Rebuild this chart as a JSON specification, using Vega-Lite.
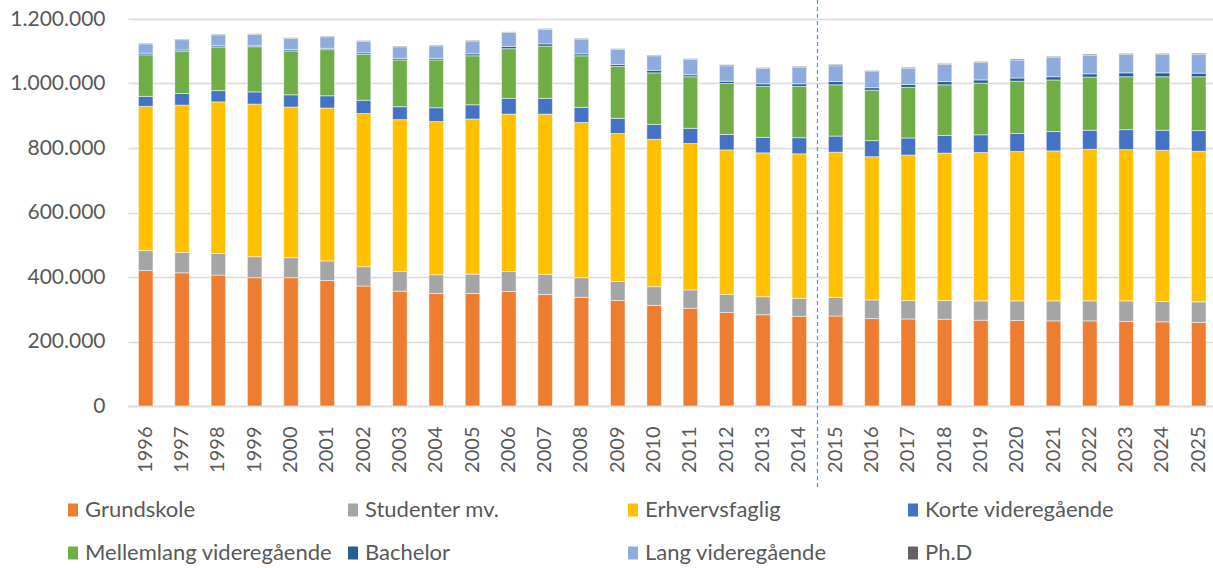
{
  "$schema": "https://vega.github.io/schema/vega-lite/v6.json",
  "autosize": {"type": "none"},
  "padding": {"left": 128, "top": 19, "right": 0, "bottom": 162},
  "width": 1085,
  "height": 387,
  "background": "white",
  "config": {
    "view": {"stroke": null},
    "font": "Lato",
    "axis": {"labelFont": "Lato", "labelColor": "#595959", "gridColor": "#D9D9D9", "gridWidth": 1.5, "domainColor": "#D9D9D9", "domainWidth": 1.5, "ticks": false, "title": null},
    "legend": {"labelFont": "Lato", "labelColor": "#595959"}
  },
  "datasets": {
    "edu": [
      {"year":"1996","cat":"Grundskole","value":420000},{"year":"1996","cat":"Studenter mv.","value":62000},{"year":"1996","cat":"Erhvervsfaglig","value":447000},{"year":"1996","cat":"Korte videregående","value":31000},{"year":"1996","cat":"Mellemlang videregående","value":129000},{"year":"1996","cat":"Bachelor","value":5000},{"year":"1996","cat":"Lang videregående","value":29000},{"year":"1996","cat":"Ph.D","value":2000},
      {"year":"1997","cat":"Grundskole","value":413000},{"year":"1997","cat":"Studenter mv.","value":63000},{"year":"1997","cat":"Erhvervsfaglig","value":457000},{"year":"1997","cat":"Korte videregående","value":36000},{"year":"1997","cat":"Mellemlang videregående","value":131000},{"year":"1997","cat":"Bachelor","value":4000},{"year":"1997","cat":"Lang videregående","value":32000},{"year":"1997","cat":"Ph.D","value":2000},
      {"year":"1998","cat":"Grundskole","value":406000},{"year":"1998","cat":"Studenter mv.","value":67000},{"year":"1998","cat":"Erhvervsfaglig","value":470000},{"year":"1998","cat":"Korte videregående","value":35000},{"year":"1998","cat":"Mellemlang videregående","value":135000},{"year":"1998","cat":"Bachelor","value":4000},{"year":"1998","cat":"Lang videregående","value":34000},{"year":"1998","cat":"Ph.D","value":2000},
      {"year":"1999","cat":"Grundskole","value":398000},{"year":"1999","cat":"Studenter mv.","value":65000},{"year":"1999","cat":"Erhvervsfaglig","value":473000},{"year":"1999","cat":"Korte videregående","value":38000},{"year":"1999","cat":"Mellemlang videregående","value":140000},{"year":"1999","cat":"Bachelor","value":3000},{"year":"1999","cat":"Lang videregående","value":35000},{"year":"1999","cat":"Ph.D","value":2000},
      {"year":"2000","cat":"Grundskole","value":398000},{"year":"2000","cat":"Studenter mv.","value":62000},{"year":"2000","cat":"Erhvervsfaglig","value":467000},{"year":"2000","cat":"Korte videregående","value":38000},{"year":"2000","cat":"Mellemlang videregående","value":136000},{"year":"2000","cat":"Bachelor","value":4000},{"year":"2000","cat":"Lang videregående","value":35000},{"year":"2000","cat":"Ph.D","value":2000},
      {"year":"2001","cat":"Grundskole","value":389000},{"year":"2001","cat":"Studenter mv.","value":61000},{"year":"2001","cat":"Erhvervsfaglig","value":474000},{"year":"2001","cat":"Korte videregående","value":38000},{"year":"2001","cat":"Mellemlang videregående","value":143000},{"year":"2001","cat":"Bachelor","value":4000},{"year":"2001","cat":"Lang videregående","value":36000},{"year":"2001","cat":"Ph.D","value":2000},
      {"year":"2002","cat":"Grundskole","value":372000},{"year":"2002","cat":"Studenter mv.","value":60000},{"year":"2002","cat":"Erhvervsfaglig","value":475000},{"year":"2002","cat":"Korte videregående","value":41000},{"year":"2002","cat":"Mellemlang videregående","value":142000},{"year":"2002","cat":"Bachelor","value":5000},{"year":"2002","cat":"Lang videregående","value":36000},{"year":"2002","cat":"Ph.D","value":2000},
      {"year":"2003","cat":"Grundskole","value":356000},{"year":"2003","cat":"Studenter mv.","value":61000},{"year":"2003","cat":"Erhvervsfaglig","value":471000},{"year":"2003","cat":"Korte videregående","value":40000},{"year":"2003","cat":"Mellemlang videregående","value":145000},{"year":"2003","cat":"Bachelor","value":5000},{"year":"2003","cat":"Lang videregående","value":36000},{"year":"2003","cat":"Ph.D","value":2000},
      {"year":"2004","cat":"Grundskole","value":349000},{"year":"2004","cat":"Studenter mv.","value":58000},{"year":"2004","cat":"Erhvervsfaglig","value":475000},{"year":"2004","cat":"Korte videregående","value":43000},{"year":"2004","cat":"Mellemlang videregående","value":148000},{"year":"2004","cat":"Bachelor","value":5000},{"year":"2004","cat":"Lang videregående","value":39000},{"year":"2004","cat":"Ph.D","value":2000},
      {"year":"2005","cat":"Grundskole","value":349000},{"year":"2005","cat":"Studenter mv.","value":60000},{"year":"2005","cat":"Erhvervsfaglig","value":481000},{"year":"2005","cat":"Korte videregående","value":44000},{"year":"2005","cat":"Mellemlang videregående","value":152000},{"year":"2005","cat":"Bachelor","value":6000},{"year":"2005","cat":"Lang videregående","value":40000},{"year":"2005","cat":"Ph.D","value":2000},
      {"year":"2006","cat":"Grundskole","value":355000},{"year":"2006","cat":"Studenter mv.","value":62000},{"year":"2006","cat":"Erhvervsfaglig","value":488000},{"year":"2006","cat":"Korte videregående","value":49000},{"year":"2006","cat":"Mellemlang videregående","value":154000},{"year":"2006","cat":"Bachelor","value":7000},{"year":"2006","cat":"Lang videregående","value":43000},{"year":"2006","cat":"Ph.D","value":2000},
      {"year":"2007","cat":"Grundskole","value":346000},{"year":"2007","cat":"Studenter mv.","value":62000},{"year":"2007","cat":"Erhvervsfaglig","value":497000},{"year":"2007","cat":"Korte videregående","value":49000},{"year":"2007","cat":"Mellemlang videregående","value":162000},{"year":"2007","cat":"Bachelor","value":7000},{"year":"2007","cat":"Lang videregående","value":45000},{"year":"2007","cat":"Ph.D","value":2000},
      {"year":"2008","cat":"Grundskole","value":337000},{"year":"2008","cat":"Studenter mv.","value":61000},{"year":"2008","cat":"Erhvervsfaglig","value":481000},{"year":"2008","cat":"Korte videregående","value":47000},{"year":"2008","cat":"Mellemlang videregående","value":160000},{"year":"2008","cat":"Bachelor","value":6000},{"year":"2008","cat":"Lang videregående","value":46000},{"year":"2008","cat":"Ph.D","value":2000},
      {"year":"2009","cat":"Grundskole","value":327000},{"year":"2009","cat":"Studenter mv.","value":59000},{"year":"2009","cat":"Erhvervsfaglig","value":459000},{"year":"2009","cat":"Korte videregående","value":47000},{"year":"2009","cat":"Mellemlang videregående","value":161000},{"year":"2009","cat":"Bachelor","value":6000},{"year":"2009","cat":"Lang videregående","value":47000},{"year":"2009","cat":"Ph.D","value":2000},
      {"year":"2010","cat":"Grundskole","value":312000},{"year":"2010","cat":"Studenter mv.","value":58000},{"year":"2010","cat":"Erhvervsfaglig","value":457000},{"year":"2010","cat":"Korte videregående","value":46000},{"year":"2010","cat":"Mellemlang videregående","value":160000},{"year":"2010","cat":"Bachelor","value":8000},{"year":"2010","cat":"Lang videregående","value":45000},{"year":"2010","cat":"Ph.D","value":2000},
      {"year":"2011","cat":"Grundskole","value":303000},{"year":"2011","cat":"Studenter mv.","value":57000},{"year":"2011","cat":"Erhvervsfaglig","value":454000},{"year":"2011","cat":"Korte videregående","value":47000},{"year":"2011","cat":"Mellemlang videregående","value":160000},{"year":"2011","cat":"Bachelor","value":6000},{"year":"2011","cat":"Lang videregående","value":48000},{"year":"2011","cat":"Ph.D","value":2000},
      {"year":"2012","cat":"Grundskole","value":290000},{"year":"2012","cat":"Studenter mv.","value":56000},{"year":"2012","cat":"Erhvervsfaglig","value":448000},{"year":"2012","cat":"Korte videregående","value":48000},{"year":"2012","cat":"Mellemlang videregående","value":158000},{"year":"2012","cat":"Bachelor","value":7000},{"year":"2012","cat":"Lang videregående","value":48000},{"year":"2012","cat":"Ph.D","value":3000},
      {"year":"2013","cat":"Grundskole","value":283000},{"year":"2013","cat":"Studenter mv.","value":56000},{"year":"2013","cat":"Erhvervsfaglig","value":446000},{"year":"2013","cat":"Korte videregående","value":48000},{"year":"2013","cat":"Mellemlang videregående","value":158000},{"year":"2013","cat":"Bachelor","value":8000},{"year":"2013","cat":"Lang videregående","value":48000},{"year":"2013","cat":"Ph.D","value":2000},
      {"year":"2014","cat":"Grundskole","value":278000},{"year":"2014","cat":"Studenter mv.","value":56000},{"year":"2014","cat":"Erhvervsfaglig","value":448000},{"year":"2014","cat":"Korte videregående","value":50000},{"year":"2014","cat":"Mellemlang videregående","value":159000},{"year":"2014","cat":"Bachelor","value":8000},{"year":"2014","cat":"Lang videregående","value":51000},{"year":"2014","cat":"Ph.D","value":3000},
      {"year":"2015","cat":"Grundskole","value":279000},{"year":"2015","cat":"Studenter mv.","value":58000},{"year":"2015","cat":"Erhvervsfaglig","value":450000},{"year":"2015","cat":"Korte videregående","value":50000},{"year":"2015","cat":"Mellemlang videregående","value":159000},{"year":"2015","cat":"Bachelor","value":10000},{"year":"2015","cat":"Lang videregående","value":49000},{"year":"2015","cat":"Ph.D","value":4000},
      {"year":"2016","cat":"Grundskole","value":271000},{"year":"2016","cat":"Studenter mv.","value":58000},{"year":"2016","cat":"Erhvervsfaglig","value":444000},{"year":"2016","cat":"Korte videregående","value":50000},{"year":"2016","cat":"Mellemlang videregående","value":156000},{"year":"2016","cat":"Bachelor","value":8000},{"year":"2016","cat":"Lang videregående","value":50000},{"year":"2016","cat":"Ph.D","value":3000},
      {"year":"2017","cat":"Grundskole","value":270000},{"year":"2017","cat":"Studenter mv.","value":57000},{"year":"2017","cat":"Erhvervsfaglig","value":451000},{"year":"2017","cat":"Korte videregående","value":53000},{"year":"2017","cat":"Mellemlang videregående","value":157000},{"year":"2017","cat":"Bachelor","value":9000},{"year":"2017","cat":"Lang videregående","value":50000},{"year":"2017","cat":"Ph.D","value":3000},
      {"year":"2018","cat":"Grundskole","value":269000},{"year":"2018","cat":"Studenter mv.","value":58000},{"year":"2018","cat":"Erhvervsfaglig","value":457000},{"year":"2018","cat":"Korte videregående","value":55000},{"year":"2018","cat":"Mellemlang videregående","value":157000},{"year":"2018","cat":"Bachelor","value":10000},{"year":"2018","cat":"Lang videregående","value":53000},{"year":"2018","cat":"Ph.D","value":3000},
      {"year":"2019","cat":"Grundskole","value":266000},{"year":"2019","cat":"Studenter mv.","value":60000},{"year":"2019","cat":"Erhvervsfaglig","value":460000},{"year":"2019","cat":"Korte videregående","value":55000},{"year":"2019","cat":"Mellemlang videregående","value":160000},{"year":"2019","cat":"Bachelor","value":10000},{"year":"2019","cat":"Lang videregående","value":54000},{"year":"2019","cat":"Ph.D","value":3000},
      {"year":"2020","cat":"Grundskole","value":265000},{"year":"2020","cat":"Studenter mv.","value":61000},{"year":"2020","cat":"Erhvervsfaglig","value":463000},{"year":"2020","cat":"Korte videregående","value":56000},{"year":"2020","cat":"Mellemlang videregående","value":162000},{"year":"2020","cat":"Bachelor","value":10000},{"year":"2020","cat":"Lang videregående","value":56000},{"year":"2020","cat":"Ph.D","value":3000},
      {"year":"2021","cat":"Grundskole","value":264000},{"year":"2021","cat":"Studenter mv.","value":62000},{"year":"2021","cat":"Erhvervsfaglig","value":465000},{"year":"2021","cat":"Korte videregående","value":60000},{"year":"2021","cat":"Mellemlang videregående","value":160000},{"year":"2021","cat":"Bachelor","value":10000},{"year":"2021","cat":"Lang videregående","value":60000},{"year":"2021","cat":"Ph.D","value":3000},
      {"year":"2022","cat":"Grundskole","value":264000},{"year":"2022","cat":"Studenter mv.","value":62000},{"year":"2022","cat":"Erhvervsfaglig","value":470000},{"year":"2022","cat":"Korte videregående","value":59000},{"year":"2022","cat":"Mellemlang videregående","value":165000},{"year":"2022","cat":"Bachelor","value":10000},{"year":"2022","cat":"Lang videregående","value":58000},{"year":"2022","cat":"Ph.D","value":3000},
      {"year":"2023","cat":"Grundskole","value":262000},{"year":"2023","cat":"Studenter mv.","value":64000},{"year":"2023","cat":"Erhvervsfaglig","value":469000},{"year":"2023","cat":"Korte videregående","value":62000},{"year":"2023","cat":"Mellemlang videregående","value":164000},{"year":"2023","cat":"Bachelor","value":12000},{"year":"2023","cat":"Lang videregående","value":57000},{"year":"2023","cat":"Ph.D","value":3000},
      {"year":"2024","cat":"Grundskole","value":261000},{"year":"2024","cat":"Studenter mv.","value":63000},{"year":"2024","cat":"Erhvervsfaglig","value":469000},{"year":"2024","cat":"Korte videregående","value":62000},{"year":"2024","cat":"Mellemlang videregående","value":166000},{"year":"2024","cat":"Bachelor","value":12000},{"year":"2024","cat":"Lang videregående","value":57000},{"year":"2024","cat":"Ph.D","value":3000},
      {"year":"2025","cat":"Grundskole","value":259000},{"year":"2025","cat":"Studenter mv.","value":64000},{"year":"2025","cat":"Erhvervsfaglig","value":467000},{"year":"2025","cat":"Korte videregående","value":64000},{"year":"2025","cat":"Mellemlang videregående","value":167000},{"year":"2025","cat":"Bachelor","value":11000},{"year":"2025","cat":"Lang videregående","value":59000},{"year":"2025","cat":"Ph.D","value":3000}
    ],
    "marker": [
      {"year": "2014", "top": 1259000, "bottom": -254000}
    ]
  },
  "layer": [
    {
      "data": {"name": "edu"},
      "transform": [
        {"calculate": "indexof(['Grundskole', 'Studenter mv.', 'Erhvervsfaglig', 'Korte videregående', 'Mellemlang videregående', 'Bachelor', 'Lang videregående', 'Ph.D'], datum.cat)", "as": "stackOrder"}
      ],
      "mark": {"type": "bar", "stroke": "white", "strokeWidth": 0.5},
      "encoding": {
        "x": {
          "field": "year", "type": "ordinal",
          "scale": {"paddingInner": 0.6, "paddingOuter": 0.24, "align": 0.6},
          "axis": {"labelAngle": 270, "labelFontSize": 20, "labelPadding": 20, "grid": false, "domain": true}
        },
        "y": {
          "field": "value", "type": "quantitative", "stack": "zero",
          "scale": {"domain": [0, 1200000], "nice": false},
          "axis": {"values": [0, 200000, 400000, 600000, 800000, 1000000, 1200000], "labelExpr": "replace(format(datum.value, ','), /,/g, '.')", "labelFontSize": 21, "labelPadding": 23, "domain": false, "grid": true}
        },
        "order": {"field": "stackOrder", "type": "quantitative", "sort": "ascending"},
        "color": {
          "field": "cat", "type": "nominal",
          "sort": ["Grundskole", "Studenter mv.", "Erhvervsfaglig", "Korte videregående", "Mellemlang videregående", "Bachelor", "Lang videregående", "Ph.D"],
          "scale": {
            "domain": ["Grundskole", "Studenter mv.", "Erhvervsfaglig", "Korte videregående", "Mellemlang videregående", "Bachelor", "Lang videregående", "Ph.D"],
            "range": ["#ED7D31", "#A5A5A5", "#FFC000", "#4472C4", "#70AD47", "#255E91", "#8FAADC", "#636363"]
          },
          "legend": {
            "title": null, "orient": "none", "legendX": -66, "legendY": 480,
            "direction": "horizontal", "columns": 4, "gridAlign": "all",
            "columnPadding": 9, "rowPadding": 21, "padding": 0,
            "symbolType": "M-0.77,-1H0.77V1H-0.77Z", "symbolSize": 169, "symbolStrokeWidth": 0,
            "labelFontSize": 22, "labelOffset": 1, "labelLimit": 400
          }
        }
      }
    },
    {
      "data": {"name": "marker"},
      "mark": {"type": "rule", "color": "#5B9BD5", "strokeWidth": 1.3, "strokeDash": [4, 3], "clip": false},
      "encoding": {
        "x": {"field": "year", "type": "ordinal", "bandPosition": 1.75},
        "y": {"field": "top", "type": "quantitative"},
        "y2": {"field": "bottom"}
      }
    }
  ]
}
